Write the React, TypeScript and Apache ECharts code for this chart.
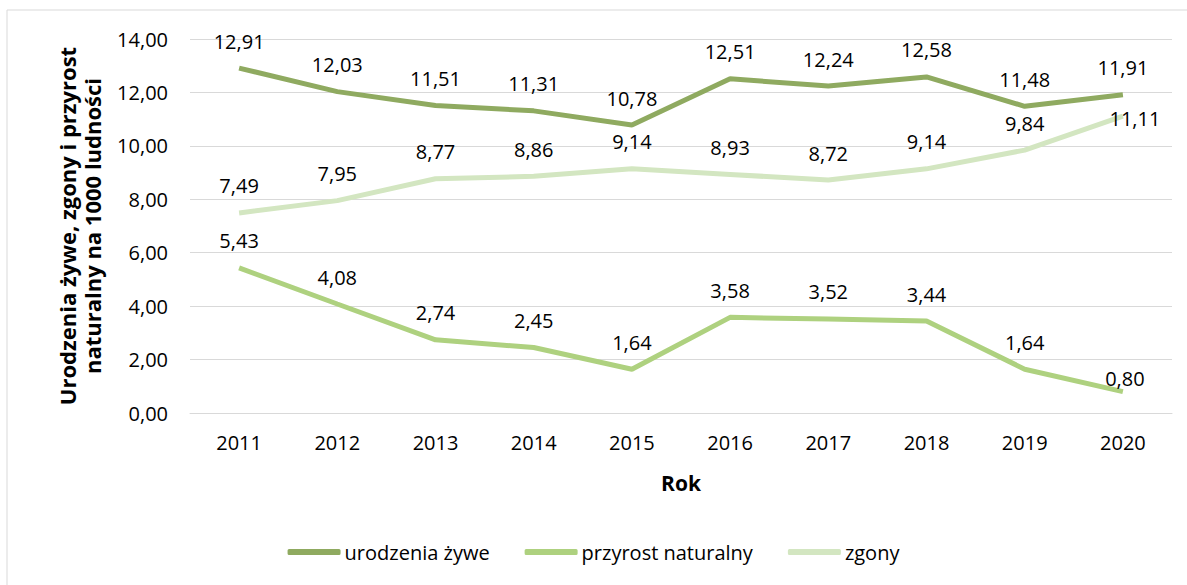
import React, { useEffect, useRef } from "react";
import * as echarts from "echarts";

const years = ["2011", "2012", "2013", "2014", "2015", "2016", "2017", "2018", "2019", "2020"];
const urodzenia = [12.91, 12.03, 11.51, 11.31, 10.78, 12.51, 12.24, 12.58, 11.48, 11.91];
const przyrost = [5.43, 4.08, 2.74, 2.45, 1.64, 3.58, 3.52, 3.44, 1.64, 0.8];
const zgony = [7.49, 7.95, 8.77, 8.86, 9.14, 8.93, 8.72, 9.14, 9.84, 11.11];

const FONT = "Open Sans";
const fmt = (v: number) => v.toFixed(2).replace(".", ",");

export default function App() {
  const ref = useRef<HTMLDivElement>(null);
  useEffect(() => {
    if (!ref.current) return;
    const chart = echarts.init(ref.current, undefined, { renderer: "svg" });
    const label = {
      show: true,
      position: "top" as const,
      distance: 17,
      fontFamily: FONT,
      fontSize: 20,
      color: "#000",
      formatter: (p: any) => fmt(Number(p.value)),
    };
    const mk = (name: string, data: number[], color: string, special?: (i: number, v: number) => any) => ({
      name,
      type: "line",
      data: data.map((v, i) => (special ? special(i, v) : v)),
      symbol: "circle",
      symbolSize: 0,
      showSymbol: true,
      lineStyle: { color, width: 5 },
      itemStyle: { color },
      label,
    });
    chart.setOption({
      animation: false,
      textStyle: { fontFamily: FONT },
      graphic: [
        {
          type: "rect",
          shape: { x: 7, y: 10, width: 1300, height: 700 },
          style: { fill: "none", stroke: "#d9d9d9", lineWidth: 1 },
          silent: true,
        },
      ],
      grid: { left: 190, right: 15, top: 39, bottom: 172 },
      legend: {
        bottom: 18,
        left: "center",
        icon: "roundRect",
        itemWidth: 53,
        itemHeight: 6,
        itemGap: 35,
        textStyle: { fontFamily: FONT, fontSize: 20, color: "#000", padding: [0, 0, 0, -1] },
        data: ["urodzenia żywe", "przyrost naturalny", "zgony"],
      },
      xAxis: {
        type: "category",
        data: years,
        name: "Rok",
        nameLocation: "middle",
        nameGap: 59,
        nameTextStyle: { fontFamily: FONT, fontSize: 21, fontWeight: "bold", color: "#000" },
        axisLine: { lineStyle: { color: "#d9d9d9", width: 1 } },
        axisTick: { show: false },
        axisLabel: { fontFamily: FONT, fontSize: 20, color: "#000", margin: 19 },
      },
      yAxis: {
        type: "value",
        min: 0,
        max: 14,
        interval: 2,
        name: "Urodzenia żywe, zgony i przyrost\nnaturalny na 1000 ludności",
        nameLocation: "middle",
        nameGap: 86,
        nameTextStyle: { fontFamily: FONT, fontSize: 22, fontWeight: "bold", color: "#000", lineHeight: 25 },
        axisLine: { show: false },
        axisTick: { show: false },
        splitLine: { lineStyle: { color: "#d9d9d9", width: 1 } },
        axisLabel: { fontFamily: FONT, fontSize: 20, color: "#000", margin: 22, formatter: (v: number) => fmt(v) },
      },
      series: [
        mk("zgony", zgony, "#d3e6c1", (i, v) =>
          i === 9 ? { value: v, label: { position: "inside", offset: [12, 2] } } : v
        ),
        mk("przyrost naturalny", przyrost, "#aed17f", (i, v) =>
          i === 9 ? { value: v, label: { position: "top", distance: 3, offset: [2, 0] } } : v
        ),
        mk("urodzenia żywe", urodzenia, "#8faa60"),
      ],
    });
    return () => chart.dispose();
  }, []);
  return <div ref={ref} style={{ position: "fixed", left: 0, top: 0, width: 1187, height: 585, background: "#fff" }} />;
}
